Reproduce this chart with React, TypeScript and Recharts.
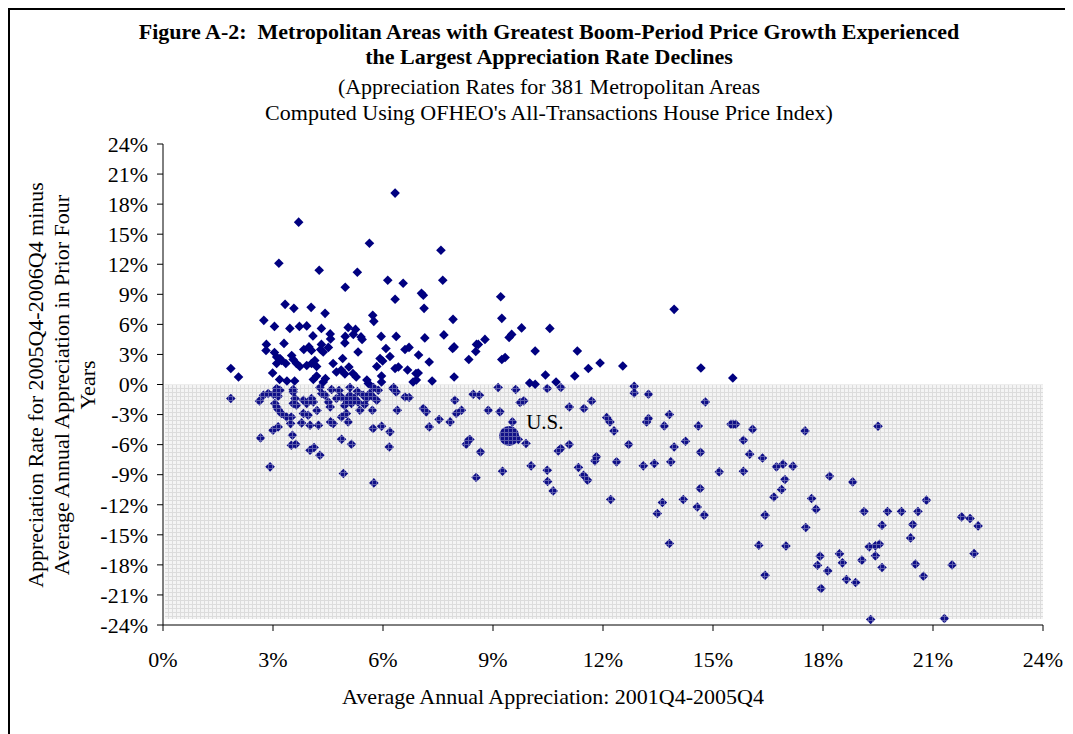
import React from 'react';
import { ScatterChart, Scatter, XAxis, YAxis, ReferenceArea } from 'recharts';

// Average annual appreciation 2001Q4-2005Q4 (%)
const boomAppreciation = [
  6.33, 3.70, 5.63, 7.58, 3.16, 4.26, 5.30, 4.97, 6.13, 6.55, 7.63, 6.33, 7.05, 7.10, 7.12, 3.33, 3.57, 4.04, 4.42, 5.72,
  5.75, 7.91, 2.75, 3.04, 3.46, 3.72, 3.92, 4.32, 4.09, 4.56, 4.57, 4.97, 4.96, 5.05, 5.25, 5.19, 5.40, 5.43, 5.95, 6.36,
  7.14, 7.66, 2.82, 2.81, 3.30, 3.84, 3.98, 4.05, 4.32, 4.30, 4.37, 4.51, 5.32, 6.08, 6.19, 6.60, 6.71, 6.97, 7.90, 7.94,
  8.55, 8.53, 8.34, 3.04, 3.10, 3.19, 3.10, 3.23, 3.35, 3.51, 3.55, 3.64, 3.73, 3.92, 4.05, 4.14, 4.19, 4.64, 4.73, 4.86,
  4.96, 5.07, 5.18, 5.27, 4.90, 5.83, 5.92, 5.99, 6.33, 6.42, 6.67, 6.90, 6.96, 6.91, 6.82, 5.96, 5.96, 5.56, 5.60, 7.34,
  7.94, 2.99, 3.18, 3.38, 3.59, 4.10, 4.19, 4.43, 4.37, 1.85, 2.06, 7.26, 9.21, 9.24, 9.78, 10.55, 13.94, 9.51, 9.44, 8.78,
  8.60, 9.24, 9.33, 10.15, 11.30, 10.43, 11.23, 11.60, 11.92, 12.54, 14.67, 15.54, 10.00, 10.15, 10.72,
  10.85, 8.46, 8.63, 9.14, 9.62, 10.48, 9.74, 9.84, 8.87, 9.19, 9.53, 11.08, 11.48, 11.69, 12.10, 12.19, 12.30, 12.85, 12.85, 13.24,
  13.19, 13.24, 13.67, 13.81, 14.60, 14.79, 15.55, 15.49, 15.62, 16.08, 15.83, 16.00, 16.35, 16.73, 16.91, 16.96, 16.87, 16.66, 16.42, 8.37,
  8.66, 8.54, 9.26, 9.90, 9.69, 10.04, 10.48, 10.49, 10.64, 10.78, 10.85, 11.08, 11.33, 11.47, 11.58, 11.78, 11.82, 12.37, 12.21, 12.70,
  13.10, 13.40, 13.85, 13.94, 14.25, 14.66, 15.17, 15.83, 14.65, 14.57, 14.76, 13.62, 13.48, 14.19, 17.51, 19.50, 17.18, 18.18, 18.81, 17.69,
  17.81, 17.53, 16.99, 17.92, 17.85, 18.13, 17.95, 18.45, 18.53, 18.64, 18.89, 19.06, 19.12, 19.26, 19.43, 19.54, 19.43, 19.61, 19.76, 19.61,
  20.14, 20.59, 20.82, 20.45, 20.39, 20.52, 20.74, 21.52, 21.78, 22.01, 22.23, 22.12, 19.30, 21.31, 13.81, 16.25, 16.42, 1.85, 2.63, 2.74,
  2.87, 3.01, 3.19, 3.14, 3.05, 3.14, 3.23, 3.10, 3.37, 3.50, 3.48, 3.53, 3.55, 3.60, 3.64, 3.55, 3.83, 3.92, 4.05, 4.10,
  3.83, 3.96, 3.78, 4.01, 4.24, 4.33, 4.42, 4.51, 4.56, 4.57, 4.64, 4.73, 4.86, 5.00, 5.10, 5.14, 5.23, 5.32, 5.37, 5.46,
  5.56, 5.64, 5.73, 5.83, 5.87, 4.87, 5.00, 5.05, 4.87, 5.14, 4.92, 5.71, 5.73, 5.96, 6.19, 6.17, 5.75, 6.27, 6.36, 6.39,
  6.60, 6.71, 7.10, 7.18, 7.26, 7.53, 7.83, 7.96, 8.00, 8.14, 8.33, 8.27, 2.66, 2.92, 3.00, 3.14, 3.50, 3.62, 4.01, 4.12,
  4.28, 3.10, 3.55, 4.28, 5.10, 5.74, 6.29, 4.80, 5.30, 4.60, 5.50, 4.95, 4.20,
];

// Appreciation 2005Q4-2006Q4 minus prior four-year average (%)
const rateChange = [
  19.1, 16.2, 14.1, 13.4, 12.1, 11.4, 11.2, 9.7, 10.4, 10.1, 10.4, 8.5, 9.1, 8.9, 7.6, 8.0, 7.6, 7.7, 7.1, 6.9,
  6.3, 6.5, 6.4, 5.8, 5.6, 5.8, 5.85, 5.6, 4.85, 5.05, 4.55, 4.8, 4.15, 5.7, 5.5, 5.0, 4.75, 4.5, 4.8, 4.8,
  4.65, 4.95, 4.0, 3.4, 4.1, 3.5, 3.75, 3.4, 4.0, 3.5, 3.25, 3.7, 3.25, 3.6, 2.8, 3.5, 3.7, 2.95, 3.6, 3.75,
  4.0, 3.3, 2.5, 3.2, 2.75, 2.6, 2.1, 2.4, 2.1, 2.9, 2.5, 2.1, 1.8, 1.9, 2.1, 2.4, 1.8, 2.1, 1.25, 1.45,
  1.05, 1.75, 1.1, 0.75, 2.6, 1.8, 2.6, 2.35, 1.6, 1.75, 1.45, 1.1, 1.15, 0.45, 0.25, 0.85, 0.25, 0.45, 0.1, 0.35,
  0.75, 1.15, 0.5, 0.35, 0.35, 0.5, 0.85, 0.6, 0.25, 1.6, 0.75, 2.25, 8.75, 6.6, 5.65, 5.6, 7.5, 5.0, 4.7, 4.5,
  4.0, 2.5, 2.7, 3.35, 3.35, 0.95, 0.85, 1.6, 2.15, 1.85, 1.65, 0.65, 0.15, 0.03, 0.25,
  -0.3, -0.97, -1.07, -0.3, -0.5, -0.4, -1.8, -1.63, -2.57, -2.73, -3.73, -2.24, -2.4, -1.64, -3.3, -3.73, -4.63, -0.17, -0.84, -0.97,
  -3.73, -3.4, -4.13, -3.0, -4.13, -1.74, -3.96, -3.96, -3.96, -4.46, -5.56, -6.95, -7.33, -8.22, -7.95, -9.48, -10.48, -11.22, -13.04, -5.49,
  -6.73, -9.28, -8.65, -5.89, -5.49, -8.12, -8.55, -9.68, -10.62, -6.63, -6.39, -5.99, -8.28, -9.05, -9.55, -7.62, -7.22, -7.72, -11.48, -5.99,
  -8.12, -7.88, -7.72, -6.23, -5.66, -6.76, -8.72, -8.65, -10.38, -12.22, -13.04, -11.78, -12.87, -11.48, -4.63, -4.16, -8.15, -9.15, -9.72, -11.38,
  -12.44, -14.27, -16.11, -17.13, -18.03, -18.6, -20.36, -16.9, -17.8, -19.46, -19.76, -17.53, -12.67, -16.2, -16.1, -15.94, -17.1, -14.04, -12.67, -18.26,
  -12.67, -12.67, -11.54, -13.97, -15.31, -17.93, -19.13, -18.0, -13.21, -13.37, -14.11, -16.87, -23.45, -23.35, -15.87, -16.04, -19.03, -1.4, -1.64, -1.07,
  -0.9, -0.97, -0.57, -1.17, -1.9, -2.5, -2.9, -2.24, -3.24, -3.24, -3.9, -5.06, -0.74, -1.4, -2.07, -1.9, -1.57, -1.9, -1.4, -1.74,
  -2.9, -3.07, -3.83, -4.06, -4.06, -0.9, -1.07, -1.74, -2.24, -3.73, -3.9, -1.4, -1.24, -1.57, -1.07, -1.9, -1.4, -1.74, -2.57, -1.07,
  -1.4, -0.9, -1.24, -1.57, -0.57, -3.24, -2.9, -3.73, -5.46, -5.96, -8.88, -2.57, -4.39, -4.16, -4.73, -6.23, -9.82, -0.4, -0.74, -2.57,
  -1.24, -1.3, -2.4, -2.73, -4.23, -3.49, -3.73, -1.57, -2.9, -2.57, -5.56, -5.96, -5.33, -8.22, -4.56, -4.23, -6.06, -5.96, -6.56, -6.29,
  -7.06, -0.4, -0.5, -0.3, -0.3, -0.3, -0.3, -0.6, -0.7, -0.5, -2.0, -2.1, -2.6,
];

const usPoint = [{ x: 9.44, y: -5.13, label: 'U.S.' }];

const xTicks = [0, 3, 6, 9, 12, 15, 18, 21, 24];
const yTicks = [-24, -21, -18, -15, -12, -9, -6, -3, 0, 3, 6, 9, 12, 15, 18, 21, 24];

const titleLines = [
  'Figure A-2:  Metropolitan Areas with Greatest Boom-Period Price Growth Experienced',
  'the Largest Appreciation Rate Declines',
];
const subtitleLines = [
  '(Appreciation Rates for 381 Metropolitan Areas',
  "Computed Using OFHEO's All-Transactions House Price Index)",
];
const yLabelLines = [
  'Appreciation Rate for 2005Q4-2006Q4 minus',
  'Average Annual Appreciation in Prior Four',
  'Years',
];
const xLabel = 'Average Annual Appreciation: 2001Q4-2005Q4';

const points = boomAppreciation.map((x, i) => ({ x, y: rateChange[i] }));
const risingPts = points.filter((p) => p.y >= 0);
const fallingPts = points.filter((p) => p.y < 0);

const FONT = '"Liberation Serif", "Times New Roman", serif';
const FS = 22;
const R = 4.8;

const Diamond = (fill: string) => (props: any) => {
  const { cx, cy } = props;
  if (cx == null || cy == null) return null;
  return (
    <polygon
      points={`${cx},${cy - R} ${cx + R},${cy} ${cx},${cy + R} ${cx - R},${cy}`}
      fill={fill}
    />
  );
};

const UsShape = (props: any) => {
  const { cx, cy, payload } = props;
  if (cx == null || cy == null) return null;
  return (
    <g>
      <circle cx={cx} cy={cy} r={10} fill="url(#navyGrid)" />
      <text x={cx + 17} y={cy - 7} fontFamily={FONT} fontSize={21} fill="#000">
        {payload.label}
      </text>
    </g>
  );
};

const tickStyle = { fill: '#000', fontSize: FS, fontFamily: FONT };

export default function App() {
  return (
    <div style={{ position: 'relative', width: 1065, height: 726, fontFamily: FONT, background: '#fff' }}>
      <svg width={0} height={0} style={{ position: 'absolute' }}>
        <defs>
          <pattern id="bgGrid" patternUnits="userSpaceOnUse" width={4} height={4}>
            <rect width={4} height={4} fill="#f4f4f4" />
            <rect width={4} height={1} fill="#dcdcdc" />
            <rect width={1} height={4} fill="#dcdcdc" />
          </pattern>
          <pattern id="navyGrid" patternUnits="userSpaceOnUse" width={4} height={4}>
            <rect width={4} height={4} fill="#101088" />
            <rect width={4} height={1} fill="#5a5aaa" />
            <rect width={1} height={4} fill="#5a5aaa" />
          </pattern>
        </defs>
      </svg>
      <div
        style={{
          position: 'absolute',
          left: 0,
          top: 0,
          width: 1065,
          height: 726,
          borderTop: '2px solid #000',
          borderLeft: '2px solid #000',
          boxSizing: 'border-box',
        }}
      />
      {titleLines.map((t, i) => (
        <div
          key={'t' + i}
          style={{
            position: 'absolute',
            left: 41,
            width: 1000,
            top: 11 + i * 25,
            lineHeight: '26px',
            fontSize: FS,
            fontWeight: 'bold',
            textAlign: 'center',
            whiteSpace: 'pre',
            color: '#000',
          }}
        >
          {t}
        </div>
      ))}
      {subtitleLines.map((t, i) => (
        <div
          key={'s' + i}
          style={{
            position: 'absolute',
            left: 41,
            width: 1000,
            top: 66 + i * 26,
            lineHeight: '26px',
            fontSize: FS,
            textAlign: 'center',
            whiteSpace: 'pre',
            color: '#000',
          }}
        >
          {t}
        </div>
      ))}
      {yLabelLines.map((t, i) => (
        <div
          key={'y' + i}
          style={{
            position: 'absolute',
            left: 28 + i * 26 - 250,
            top: 377 - 13,
            width: 500,
            lineHeight: '26px',
            fontSize: FS,
            textAlign: 'center',
            transform: 'rotate(-90deg)',
            transformOrigin: 'center',
            whiteSpace: 'pre',
            color: '#000',
          }}
        >
          {t}
        </div>
      ))}
      <div
        style={{
          position: 'absolute',
          left: 245,
          width: 600,
          top: 676,
          lineHeight: '26px',
          fontSize: FS,
          textAlign: 'center',
          color: '#000',
        }}
      >
        {xLabel}
      </div>
      <div style={{ position: 'absolute', left: 0, top: 0 }}>
        <ScatterChart width={1065} height={726} margin={{ top: 136, right: 30, bottom: 79, left: 0 }}>
          <ReferenceArea
            x1={0.05}
            x2={24}
            y1={0}
            y2={-23.4}
            fill="url(#bgGrid)"
            fillOpacity={1}
            stroke="none"
            ifOverflow="visible"
          />
          <XAxis
            type="number"
            dataKey="x"
            domain={[0, 24]}
            ticks={xTicks}
            tickFormatter={(v: number) => `${v}%`}
            height={30}
            tickSize={6}
            tickMargin={20}
            axisLine={{ stroke: '#000', strokeWidth: 1 }}
            tickLine={{ stroke: '#000', strokeWidth: 1 }}
            tick={tickStyle}
            interval={0}
            allowDataOverflow
          />
          <YAxis
            type="number"
            dataKey="y"
            domain={[-24, 24]}
            ticks={yTicks}
            tickFormatter={(v: number) => `${v}%`}
            width={155}
            tickSize={6}
            tickMargin={9}
            axisLine={{ stroke: '#000', strokeWidth: 1 }}
            tickLine={{ stroke: '#000', strokeWidth: 1 }}
            tick={tickStyle}
            interval={0}
            allowDataOverflow
          />
          <Scatter data={fallingPts} shape={Diamond('url(#navyGrid)')} isAnimationActive={false} />
          <Scatter data={risingPts} shape={Diamond('#000080')} isAnimationActive={false} />
          <Scatter data={usPoint} shape={UsShape} isAnimationActive={false} />
        </ScatterChart>
      </div>
    </div>
  );
}
